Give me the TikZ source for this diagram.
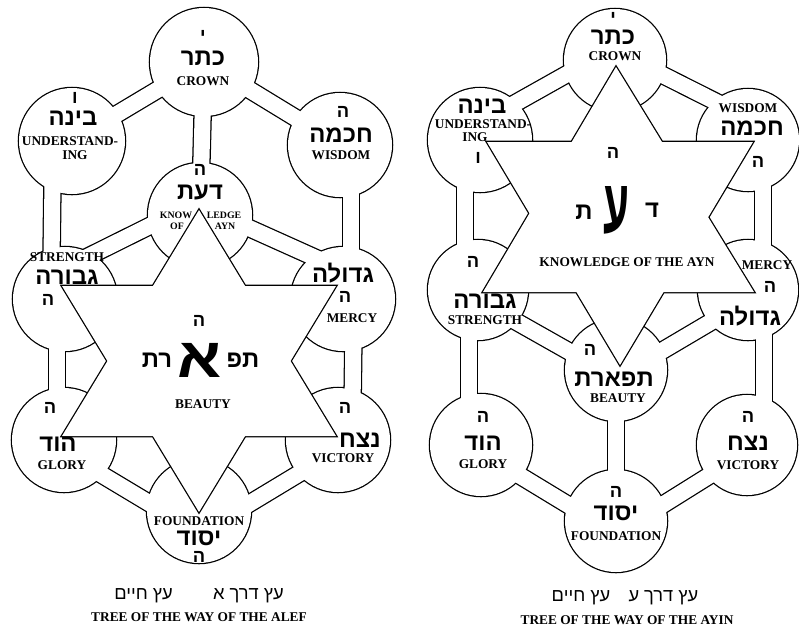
\documentclass[tikz,border=0pt]{standalone}
\usepackage{fontspec}
\setmainfont{Liberation Serif}
\newfontfamily\hebfont[Script=Hebrew]{Liberation Sans}
\TeXXeTstate=1
\tikzset{
  tubeout/.style={line width=13.2pt},
  tubein/.style={white, line width=11.4pt},
  lab/.style={font=\bfseries\fontsize{9.5}{9.5}\selectfont, inner sep=0pt},
  smlab/.style={font=\bfseries\fontsize{7}{7}\selectfont, inner sep=0pt},
  hword/.style={font=\bfseries\fontsize{17}{17}\selectfont, inner sep=0pt},
  hlet/.style={font=\bfseries\fontsize{13}{13}\selectfont, inner sep=0pt},
  hcap/.style={font=\fontsize{13}{13}\selectfont, inner sep=0pt},
  hbig/.style={font=\bfseries\fontsize{40}{40}\selectfont, inner sep=0pt}
}
\newcommand{\heb}[1]{{\hebfont\beginR#1\endR}}
\def\sefirot{keterA/54, binahA/53, chokhA/52, daatA/52, gevA/52, chesA/52, hodA/52, netzA/52, yesodA/52,
  keterB/51, binahB/52, chokhB/51, gevB/50, chesB/50, tifB/51, hodB/51, netzB/50, yesodB/51}
\def\tubes{keterA/binahA, keterA/chokhA, keterA/daatA, bgA1/bgA2, ghA1/ghA2, ccA1/ccA2, cnA1/cnA2,
  gdA1/gdA2, cdA1/cdA2, hyA1/hyA2, nyA1/nyA2,
  kbB1/kbB2, kcB1/kcB2, bgB1/bgB2, ccB1/ccB2, ghB1/ghB2, cnB1/cnB2, gtB1/tyB1, ctB1/tyB1,
  tyB1/tyB2, hyB1/tyB2, nyB1/tyB2}

\begin{document}
\begin{tikzpicture}[x=0.025cm, y=-0.025cm]
\useasboundingbox (0,0) rectangle (799,627);

% tree of the alef
\coordinate (keterA) at (204,62);
\coordinate (binahA) at (72,141);
\coordinate (chokhA) at (340,145);
\coordinate (daatA)  at (200,215);
\coordinate (gevA)   at (65,299);
\coordinate (chesA)  at (343,299);
\coordinate (hodA)   at (64,440);
\coordinate (netzA)  at (338,440);
\coordinate (yesodA) at (199,511);
\coordinate (bgA1) at (53,141);  \coordinate (bgA2) at (51,299);
\coordinate (ghA1) at (57,299);  \coordinate (ghA2) at (57,440);
\coordinate (ccA1) at (351,145); \coordinate (ccA2) at (351,299);
\coordinate (cnA1) at (354,299); \coordinate (cnA2) at (352,440);
\coordinate (gdA1) at (65,268);  \coordinate (gdA2) at (200,201);
\coordinate (cdA1) at (338,268); \coordinate (cdA2) at (200,206);
\coordinate (hyA1) at (64,452);  \coordinate (hyA2) at (199,533);
\coordinate (nyA1) at (338,450); \coordinate (nyA2) at (199,534);

% tree of the ayin
\coordinate (keterB) at (615,60);
\coordinate (binahB) at (480,140);
\coordinate (chokhB) at (748,140);
\coordinate (gevB)   at (478,290);
\coordinate (chesB)  at (748,290);
\coordinate (tifB)   at (616,370);
\coordinate (hodB)   at (481,445);
\coordinate (netzB)  at (747,445);
\coordinate (yesodB) at (616,521);
\coordinate (kbB1) at (617,46);  \coordinate (kbB2) at (480,123);
\coordinate (kcB1) at (617,52);  \coordinate (kcB2) at (748,118);
\coordinate (bgB1) at (465,140); \coordinate (bgB2) at (465,290);
\coordinate (ccB1) at (763,140); \coordinate (ccB2) at (763,290);
\coordinate (ghB1) at (469,290); \coordinate (ghB2) at (469,445);
\coordinate (cnB1) at (764,290); \coordinate (cnB2) at (764,445);
\coordinate (gtB1) at (478,300); \coordinate (ctB1) at (748,300); \coordinate (tyB1) at (616,378);
\coordinate (tyB2) at (616,534); \coordinate (hyB1) at (481,452); \coordinate (nyB1) at (747,452);

\foreach \a/\b in \tubes \draw[tubeout] (\a) -- (\b);
\foreach \c/\r in \sefirot \fill (\c) circle[radius=\r*0.025cm+0.9pt];
\foreach \a/\b in \tubes \draw[tubein] (\a) -- (\b);
\foreach \c/\r in \sefirot \fill[white] (\c) circle[radius=\r*0.025cm];

% stars
\coordinate (sA1) at (199,210); \coordinate (sA2) at (62,436); \coordinate (sA3) at (336,436);
\coordinate (sA4) at (62,286);  \coordinate (sA5) at (336,286); \coordinate (sA6) at (199,512);
\coordinate (sB1) at (616,67);  \coordinate (sB2) at (483,292); \coordinate (sB3) at (754,292);
\coordinate (sB4) at (487,142); \coordinate (sB5) at (753,142); \coordinate (sB6) at (620,365);
\draw[line width=1.8pt, line join=miter] (sA1) -- (sA2) -- (sA3) -- cycle (sA4) -- (sA5) -- (sA6) -- cycle
  (sB1) -- (sB2) -- (sB3) -- cycle (sB4) -- (sB5) -- (sB6) -- cycle;
\fill[white] (sA1) -- (sA2) -- (sA3) -- cycle;
\fill[white] (sA4) -- (sA5) -- (sA6) -- cycle;
\fill[white] (sB1) -- (sB2) -- (sB3) -- cycle;
\fill[white] (sB4) -- (sB5) -- (sB6) -- cycle;

% labels, alef
\node[hlet]  (keterAl) at (203,36)  {\heb{י}};
\node[hword] (keterAh) at (203,58)  {\heb{כתר}};
\node[lab]   (keterAe) at (203,81)  {CROWN};
\node[hlet]  (binahAl) at (75,98)   {\heb{ו}};
\node[hword] (binahAh) at (73,118)  {\heb{בינה}};
\node[lab]   (binahAe) at (70,141)  {UNDERSTAND-};
\node[lab]   (binahAf) at (75,155)  {ING};
\node[hlet]  (chokhAl) at (343,112) {\heb{ה}};
\node[hword] (chokhAh) at (341,135) {\heb{חכמה}};
\node[lab]   (chokhAe) at (341,155) {WISDOM};
\node[hlet]  (daatAl)  at (200,170) {\heb{ה}};
\node[hword] (daatAh)  at (200,193) {\heb{דעת}};
\node[smlab] (daatAe1) at (176,215) {KNOW};
\node[smlab] (daatAe2) at (224,215) {LEDGE};
\node[smlab] (daatAe3) at (177,226) {OF};
\node[smlab] (daatAe4) at (225,226) {AYN};
\node[lab]   (gevAe)   at (67,257)  {STRENGTH};
\node[hword] (gevAh)   at (67,277)  {\heb{גבורה}};
\node[hlet]  (gevAl)   at (48,300)  {\heb{ה}};
\node[hword] (chesAh)  at (343,273) {\heb{גדולה}};
\node[hlet]  (chesAl)  at (345,297) {\heb{ה}};
\node[lab]   (chesAe)  at (352,318) {MERCY};
\node[hlet]  (tifAl)   at (199,321) {\heb{ה}};
\node[hword] (tifAh1)  at (243,360) {\heb{תפ}};
\node[hbig]  (tifAh2)  at (200,360) {\scalebox{1.15}[1]{\heb{א}}};
\node[hword] (tifAh3)  at (157,360) {\heb{רת}};
\node[lab]   (tifAe)   at (203,404) {BEAUTY};
\node[hlet]  (hodAl)   at (50,408)  {\heb{ה}};
\node[hword] (hodAh)   at (58,444)  {\heb{הוד}};
\node[lab]   (hodAe)   at (62,465)  {GLORY};
\node[hlet]  (netzAl)  at (345,408) {\heb{ה}};
\node[hword] (netzAh)  at (360,440) {\heb{נצח}};
\node[lab]   (netzAe)  at (343,458) {VICTORY};
\node[lab]   (yesodAe) at (199,521) {FOUNDATION};
\node[hword] (yesodAh) at (199,538) {\heb{יסוד}};
\node[hlet]  (yesodAl) at (199,557) {\heb{ה}};
\node[hcap]  (capAh)   at (199,596) {\heb{עץ חיים}\hspace{2.2em}\heb{עץ דרך א}};
\node[lab]   (capAe)   at (199,617) {TREE OF THE WAY OF THE ALEF};

% labels, ayin
\node[hlet]  (keterBl) at (613,18)  {\heb{י}};
\node[hword] (keterBh) at (613,37)  {\heb{כתר}};
\node[lab]   (keterBe) at (615,56)  {CROWN};
\node[hword] (binahBh) at (482,106) {\heb{בינה}};
\node[lab]   (binahBe) at (483,124) {UNDERSTAND-};
\node[lab]   (binahBf) at (475,137) {ING};
\node[hlet]  (binahBl) at (478,158) {\heb{ו}};
\node[lab]   (chokhBe) at (748,108) {WISDOM};
\node[hword] (chokhBh) at (752,128) {\heb{חכמה}};
\node[hlet]  (chokhBl) at (758,162) {\heb{ה}};
\node[hlet]  (daatBl)  at (613,153) {\heb{ה}};
\node[hword] (daatBh1) at (652,210) {\heb{ד}};
\node[hbig]  (daatBh2) at (617,210) {\scalebox{0.75}[1.35]{\heb{ע}}};
\node[hword] (daatBh3) at (584,212) {\heb{ת}};
\node[lab]   (daatBe)  at (627,262) {KNOWLEDGE OF THE AYN};
\node[hlet]  (gevBl)   at (473,262) {\heb{ה}};
\node[hword] (gevBh)   at (485,301) {\heb{גבורה}};
\node[lab]   (gevBe)   at (485,320) {STRENGTH};
\node[lab]   (chesBe)  at (767,265) {MERCY};
\node[hlet]  (chesBl)  at (770,287) {\heb{ה}};
\node[hword] (chesBh)  at (750,316) {\heb{גדולה}};
\node[hlet]  (tifBl)   at (590,350) {\heb{ה}};
\node[hword] (tifBh)   at (614,379) {\heb{תפארת}};
\node[lab]   (tifBe)   at (618,398) {BEAUTY};
\node[hlet]  (hodBl)   at (483,417) {\heb{ה}};
\node[hword] (hodBh)   at (483,443) {\heb{הוד}};
\node[lab]   (hodBe)   at (483,464) {GLORY};
\node[hlet]  (netzBl)  at (748,417) {\heb{ה}};
\node[hword] (netzBh)  at (748,443) {\heb{נצח}};
\node[lab]   (netzBe)  at (748,465) {VICTORY};
\node[hlet]  (yesodBl) at (616,492) {\heb{ה}};
\node[hword] (yesodBh) at (616,513) {\heb{יסוד}};
\node[lab]   (yesodBe) at (616,536) {FOUNDATION};
\node[hcap]  (capBh)   at (625,598) {\heb{עץ חיים}\hspace{1em}\heb{עץ דרך ע}};
\node[lab]   (capBe)   at (627,620) {TREE OF THE WAY OF THE AYIN};
\end{tikzpicture}
\end{document}
